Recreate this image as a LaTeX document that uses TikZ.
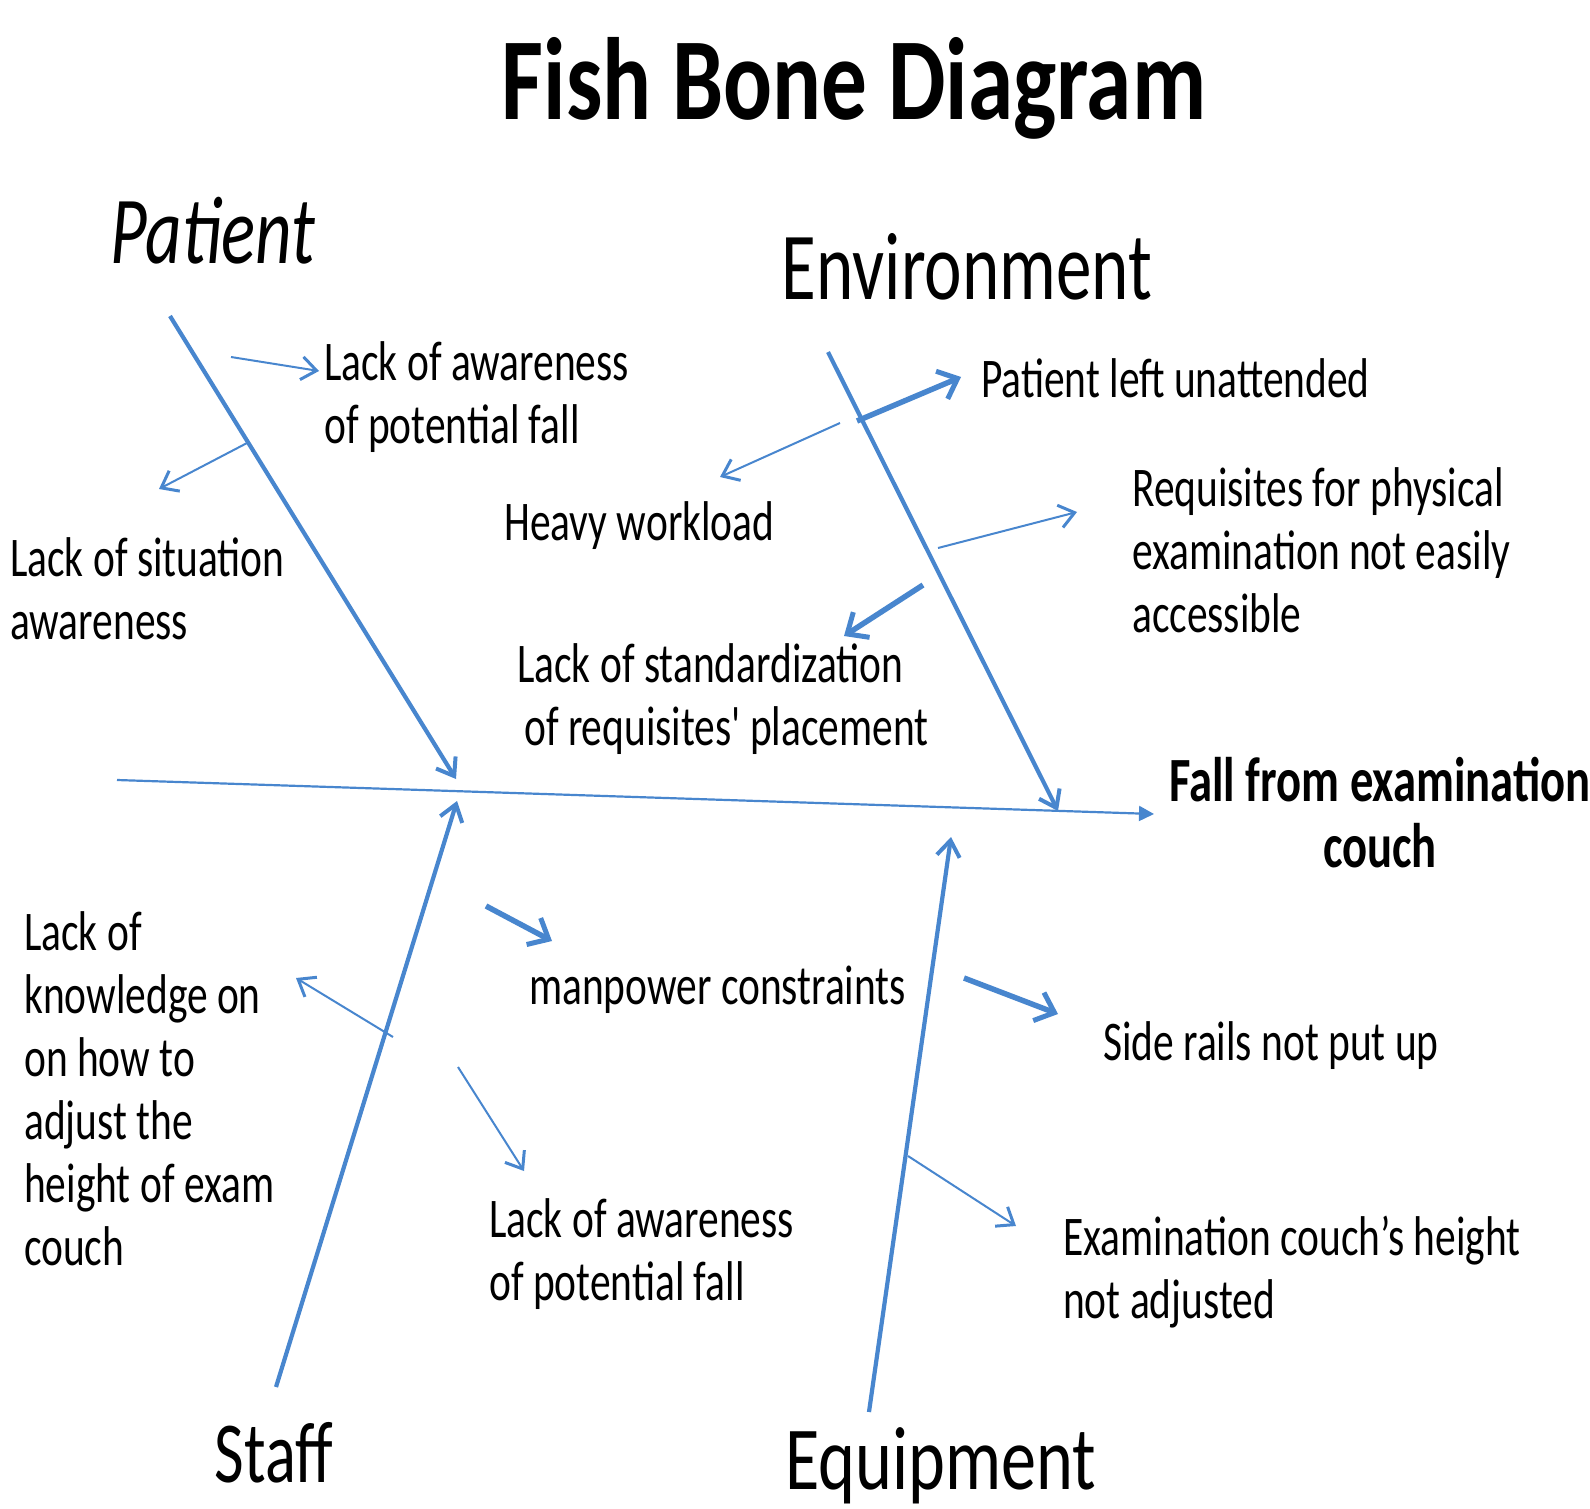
\documentclass[tikz,border=0pt]{standalone}
\usepackage{fontspec}
\usetikzlibrary{arrows.meta}
\newfontfamily\fishfont{Carlito}[FakeStretch=0.74]
\newfontfamily\headfont{Carlito}[FakeStretch=0.78]
\definecolor{bonecol}{RGB}{72,134,206}
\tikzset{
  bone/.style={draw=bonecol, line width=4.2pt, -{Straight Barb[length=16pt, width=23pt, line width=4pt]}},
  subarrow/.style={draw=bonecol, line width=2pt, -{Straight Barb[length=15pt, width=23pt, line width=3pt]}},
  thicksub/.style={draw=bonecol, line width=5.5pt, -{Straight Barb[length=17pt, width=30pt, line width=5pt]}},
  cause/.style={anchor=base west, inner sep=0pt, align=left, font=\fishfont\fontsize{56}{63}\selectfont},
  category/.style={anchor=base, inner sep=0pt}
}
\begin{document}
\begin{tikzpicture}[x=1pt, y=-1pt]
    \useasboundingbox (0,0) rectangle (1590,1509);

    % Titles
    \node[category, font=\headfont\bfseries\fontsize{117}{120}\selectfont] (title) at (854,120) {Fish Bone Diagram};
    \node[category, font=\fishfont\itshape\fontsize{96}{100}\selectfont] (patient) at (213,263) {Patient};
    \node[category, font=\fishfont\fontsize{96}{100}\selectfont] (environment) at (967,299) {Environment};
    \node[category, font=\fishfont\fontsize{87}{90}\selectfont] (staff) at (274,1482) {Staff};
    \node[category, font=\headfont\fontsize{90}{94}\selectfont] (equipment) at (941,1489) {Equipment};
    \node[category, align=center, font=\fishfont\bfseries\fontsize{63}{66}\selectfont] (fall) at (1380,867) {Fall from examination\\couch};

    % Causes
    \node[cause] (awarenessP) at (324,443) {Lack of awareness\\of potential fall};
    \node[cause] (situation) at (10,639) {Lack of situation\\awareness};
    \node[cause] (workload) at (504,540) {Heavy workload};
    \node[cause] (unattended) at (981,397) {Patient left unattended};
    \node[cause] (requisites) at (1132,632) {Requisites for physical\\examination not easily\\accessible};
    \node[cause] (standard) at (517,745) {Lack of standardization\\\hspace*{7pt}of requisites\symbol{39} placement};
    \node[cause] (manpower) at (529,1004) {manpower constraints};
    \node[cause] (knowledge) at (24,1265) {Lack of\\knowledge on\\on how to\\adjust the\\height of exam\\couch};
    \node[cause] (siderails) at (1103,1060) {Side rails not put up};
    \node[cause] (awarenessS) at (489,1300) {Lack of awareness\\of potential fall};
    \node[cause] (couchheight) at (1063,1318) {Examination couch’s height\\not adjusted};

    % Spine
    \coordinate (tail) at (117,780);
    \coordinate (head) at (1154,814);
    \draw[draw=bonecol, line width=2.2pt, -{Triangle[length=15pt, width=15pt]}] (tail) -- (head);

    % Bones
    \coordinate (p0) at (170,316);  \coordinate (p1) at (456,779);
    \coordinate (e0) at (828,352);  \coordinate (e1) at (1058,811);
    \coordinate (s0) at (276,1387); \coordinate (s1) at (457,801);
    \coordinate (q0) at (869,1412); \coordinate (q1) at (951,837);
    \draw[bone] (p0) -- (p1);
    \draw[bone] (e0) -- (e1);
    \draw[bone] (s0) -- (s1);
    \draw[bone] (q0) -- (q1);

    % Patient
    \draw[subarrow] (231,357) -- (319,371);
    \draw[subarrow] (249,442) -- (159,489);
    % Environment
    \draw[thicksub] (857,421) -- (961,377);
    \draw[subarrow] (840,423) -- (720,477);
    \draw[subarrow] (938,548) -- (1077,512);
    \draw[thicksub] (923,585) -- (844,636);
    % Staff
    \draw[subarrow] (393,1037) -- (296,978);
    \draw[thicksub] (486,906) -- (552,941);
    \draw[subarrow] (458,1067) -- (524,1171);
    % Equipment
    \draw[thicksub] (964,978) -- (1058,1014);
    \draw[subarrow] (908,1156) -- (1016,1226);
\end{tikzpicture}
\end{document}
